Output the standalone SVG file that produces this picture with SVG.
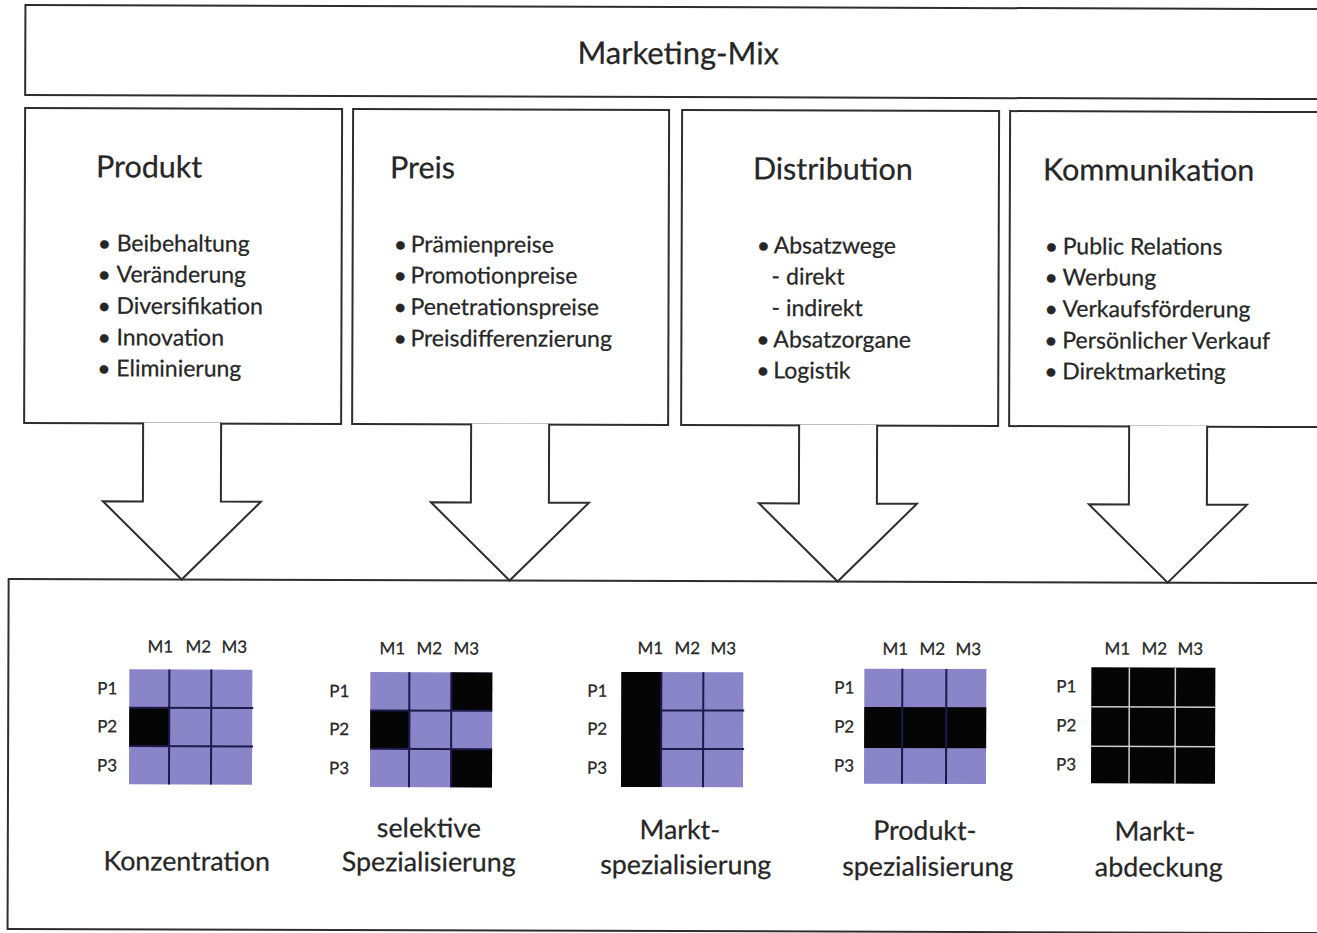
<svg xmlns="http://www.w3.org/2000/svg" width="1317" height="933" viewBox="0 0 1317 933">
  <style>
    .box { fill: #ffffff; stroke: #2e2e2e; stroke-width: 2; }
    .arrow { fill: #ffffff; stroke: #2e2e2e; stroke-width: 2; stroke-linejoin: miter; }
    text { font-family: Lato, "Open Sans", "Liberation Sans", sans-serif; fill: #262626; stroke: #262626; stroke-width: 0.25px; }
    .title { font-size: 31px; text-anchor: middle; }
    .head { font-size: 30.5px; }
    .item { font-size: 23px; }
    .label { font-size: 26.8px; text-anchor: middle; }
    .mlab { font-size: 17px; }
    .plab { font-size: 17px; }
    .cell { fill: #8a84c8; }
    .on { fill: #050505; }
    .grid { stroke: #1c1a4a; stroke-width: 2; fill: none; }
    .grid-light { stroke: #cfcfcf; stroke-width: 1.5; fill: none; }
  </style>

  <rect width="1317" height="933" fill="#ffffff"/>

  <g transform="rotate(0.18 658 466)">
    <!-- header bar -->
    <g id="marketing-mix">
      <rect class="box" x="24" y="7" width="1320" height="90"/>
      <text class="title" x="677" y="64">Marketing-Mix</text>
    </g>

    <!-- the four instruments -->
    <g id="produkt">
      <rect class="box" x="24" y="110" width="317" height="315"/>
      <text class="head" x="95" y="179">Produkt</text>
      <text class="item"><tspan x="97" y="253">•</tspan><tspan x="116" y="253">Beibehaltung</tspan></text>
      <text class="item"><tspan x="97" y="284">•</tspan><tspan x="116" y="284">Veränderung</tspan></text>
      <text class="item"><tspan x="97" y="315.5">•</tspan><tspan x="116" y="315.5">Diversifikation</tspan></text>
      <text class="item"><tspan x="97" y="347">•</tspan><tspan x="116" y="347">Innovation</tspan></text>
      <text class="item"><tspan x="97" y="378">•</tspan><tspan x="116" y="378">Eliminierung</tspan></text>
    </g>

    <g id="preis">
      <rect class="box" x="352" y="110" width="316" height="315"/>
      <text class="head" x="389" y="179">Preis</text>
      <text class="item"><tspan x="393" y="253">•</tspan><tspan x="410" y="253">Prämienpreise</tspan></text>
      <text class="item"><tspan x="393" y="284">•</tspan><tspan x="410" y="284">Promotionpreise</tspan></text>
      <text class="item"><tspan x="393" y="315.5">•</tspan><tspan x="410" y="315.5">Penetrationspreise</tspan></text>
      <text class="item"><tspan x="393" y="347">•</tspan><tspan x="410" y="347">Preisdifferenzierung</tspan></text>
    </g>

    <g id="distribution">
      <rect class="box" x="681" y="110" width="317" height="315"/>
      <text class="head" x="752" y="179">Distribution</text>
      <text class="item"><tspan x="756" y="253">•</tspan><tspan x="773" y="253">Absatzwege</tspan></text>
      <text class="item" x="771" y="284">- direkt</text>
      <text class="item" x="771" y="315.5">- indirekt</text>
      <text class="item"><tspan x="756" y="347">•</tspan><tspan x="773" y="347">Absatzorgane</tspan></text>
      <text class="item"><tspan x="756" y="378">•</tspan><tspan x="773" y="378">Logistik</tspan></text>
    </g>

    <g id="kommunikation">
      <rect class="box" x="1009" y="110" width="330" height="315"/>
      <text class="head" x="1042" y="179">Kommunikation</text>
      <text class="item"><tspan x="1044" y="253">•</tspan><tspan x="1062" y="253">Public Relations</tspan></text>
      <text class="item"><tspan x="1044" y="284">•</tspan><tspan x="1062" y="284">Werbung</tspan></text>
      <text class="item"><tspan x="1044" y="315.5">•</tspan><tspan x="1062" y="315.5">Verkaufsförderung</tspan></text>
      <text class="item"><tspan x="1044" y="347">•</tspan><tspan x="1062" y="347">Persönlicher Verkauf</tspan></text>
      <text class="item"><tspan x="1044" y="378">•</tspan><tspan x="1062" y="378">Direktmarketing</tspan></text>
    </g>

    <!-- target market strategies -->
    <g id="marktabdeckung">
      <rect class="box" x="9" y="581" width="1330" height="350"/>

      <!-- Konzentration -->
      <g id="konzentration">
        <rect class="cell" x="130" y="671" width="123" height="115"/>
        <rect class="on" x="130" y="709.3" width="40" height="38.3"/>
        <path class="grid" d="M170 671V786M212 671V786M130 709.3H254M130 747.7H254"/>
        <text class="mlab"><tspan x="148" y="654">M1</tspan><tspan x="186" y="654">M2</tspan><tspan x="222" y="654">M3</tspan></text>
        <text class="plab"><tspan x="98" y="696">P1</tspan><tspan x="98" y="734">P2</tspan><tspan x="98" y="773">P3</tspan></text>
        <text class="label" x="188" y="872">Konzentration</text>
      </g>

      <!-- selektive Spezialisierung -->
      <g id="selektive-spezialisierung">
        <rect class="cell" x="371" y="673" width="122" height="115"/>
        <rect class="on" x="452" y="673" width="41" height="38.3"/>
        <rect class="on" x="371" y="711.3" width="40" height="38.4"/>
        <rect class="on" x="452" y="749.7" width="41" height="38.3"/>
        <path class="grid" d="M410 673V788M452 673V788M371 711.3H493M371 749.7H493"/>
        <text class="mlab"><tspan x="380" y="655">M1</tspan><tspan x="417" y="655">M2</tspan><tspan x="454" y="655">M3</tspan></text>
        <text class="plab"><tspan x="330" y="698">P1</tspan><tspan x="330" y="736">P2</tspan><tspan x="330" y="775">P3</tspan></text>
        <text class="label" x="430" y="838">selektive</text>
        <text class="label" x="430" y="872">Spezialisierung</text>
      </g>

      <!-- Marktspezialisierung -->
      <g id="marktspezialisierung">
        <rect class="cell" x="622" y="672" width="122" height="115"/>
        <rect class="on" x="622" y="672" width="40" height="115"/>
        <path class="grid" d="M662 672V787M704 672V787M662 710.3H745M662 748.7H745"/>
        <text class="mlab"><tspan x="638" y="654">M1</tspan><tspan x="675" y="654">M2</tspan><tspan x="711" y="654">M3</tspan></text>
        <text class="plab"><tspan x="588" y="697">P1</tspan><tspan x="588" y="735">P2</tspan><tspan x="588" y="774">P3</tspan></text>
        <text class="label" x="681" y="839">Markt-</text>
        <text class="label" x="687" y="874">spezialisierung</text>
      </g>

      <!-- Produktspezialisierung -->
      <g id="produktspezialisierung">
        <rect class="cell" x="865" y="668" width="122" height="115"/>
        <rect class="on" x="865" y="706.3" width="122" height="41"/>
        <path class="grid" d="M903 668V783M947 668V783"/>
        <text class="mlab"><tspan x="883" y="654">M1</tspan><tspan x="920" y="654">M2</tspan><tspan x="956" y="654">M3</tspan></text>
        <text class="plab"><tspan x="835" y="693">P1</tspan><tspan x="835" y="732">P2</tspan><tspan x="835" y="771">P3</tspan></text>
        <text class="label" x="926" y="839">Produkt-</text>
        <text class="label" x="929" y="875">spezialisierung</text>
      </g>

      <!-- Marktabdeckung -->
      <g id="volle-marktabdeckung">
        <rect class="on" x="1092" y="666" width="124" height="116"/>
        <path class="grid-light" d="M1130 666V782M1176 666V782M1092 705.5H1216M1092 745H1216"/>
        <text class="mlab"><tspan x="1105" y="653">M1</tspan><tspan x="1142" y="653">M2</tspan><tspan x="1178" y="653">M3</tspan></text>
        <text class="plab"><tspan x="1057" y="691">P1</tspan><tspan x="1057" y="730">P2</tspan><tspan x="1057" y="769">P3</tspan></text>
        <text class="label" x="1156" y="839">Markt-</text>
        <text class="label" x="1160" y="875">abdeckung</text>
      </g>
    </g>

    <!-- block arrows from each instrument down to the strategies -->
    <g id="connectors">
      <path class="arrow" d="M143 424V503H103L182 581L261 503H221V424"/>
      <path class="arrow" d="M471 424V503H431L510 581L589 503H549V424"/>
      <path class="arrow" d="M799 424V503H759L838 581L917 503H877V424"/>
      <path class="arrow" d="M1129 424V503H1089L1168 581L1247 503H1207V424"/>
    </g>
  </g>
</svg>
